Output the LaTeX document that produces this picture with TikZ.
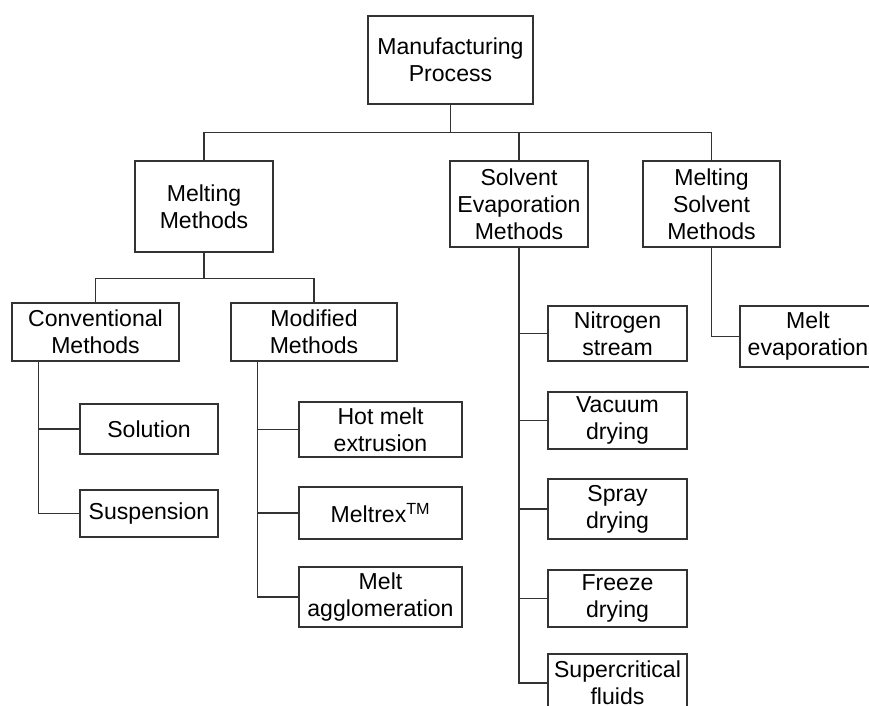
\documentclass[tikz,border=0pt]{standalone}
\usepackage{fontspec}
\setmainfont{Liberation Sans}

\begin{document}
\begin{tikzpicture}[x=0.75pt, y=-0.75pt, line width=0.9pt,
		box/.style={draw=black!80, fill=white, align=center, inner sep=2pt, font=\fontsize{17.3}{20.3}\selectfont},
		wh/.style 2 args={minimum width=#1*0.75pt, minimum height=#2*0.75pt},
		link/.style={draw=black!80}]
		\useasboundingbox (0,0) rectangle (869,706);
		\node[box, wh={165}{88}] (root) at (450.5,60) {Manufacturing\\Process};
		\node[box, wh={138}{91}] (melt) at (204,206.5) {Melting\\Methods};
		\node[box, wh={138}{86}] (solv) at (519,204) {Solvent\\Evaporation\\Methods};
		\node[box, wh={137}{86}] (msolv) at (711.5,204) {Melting\\Solvent\\Methods};
		\node[box, wh={167}{58}] (conv) at (95.5,332) {Conventional\\Methods};
		\node[box, wh={166}{58}] (modif) at (314,332) {Modified\\Methods};
		\node[box, wh={138}{50}] (sol) at (149,429) {Solution};
		\node[box, wh={138}{47}] (susp) at (149,513.5) {Suspension};
		\node[box, wh={163}{55}] (hme) at (380.5,429.5) {Hot melt\\extrusion};
		\node[box, wh={163}{52}] (meltrex) at (380.5,513) {Meltrex\textsuperscript{TM}};
		\node[box, wh={163}{60}] (magg) at (380.5,597) {Melt\\agglomeration};
		\node[box, wh={139}{55}] (nitro) at (617.5,333.5) {Nitrogen\\stream};
		\node[box, wh={139}{57}] (vac) at (617.5,420.5) {Vacuum\\drying};
		\node[box, wh={139}{60}] (spray) at (617.5,509) {Spray\\drying};
		\node[box, wh={139}{57}] (freeze) at (617.5,598.5) {Freeze\\drying};
		\node[box, wh={139}{58}] (scf) at (617.5,683) {Supercritical\\fluids};
		\node[box, wh={136}{61}] (mevap) at (808,336.5) {Melt\\evaporation};
		\foreach \c in {melt,solv,msolv}
			\draw[link] (root.south) -- ++(0,28) -| (\c.north);
		\foreach \c in {conv,modif}
			\draw[link] (melt.south) -- ++(0,26) -| (\c.north);
		\foreach \c in {sol,susp}
			\draw[link] (conv.south west) ++(27,0) |- (\c.west);
		\foreach \c in {hme,meltrex,magg}
			\draw[link] (modif.south west) ++(27,0) |- (\c.west);
		\foreach \c in {nitro,vac,spray,freeze,scf}
			\draw[link] (solv.south) |- (\c.west);
		\draw[link] (msolv.south) |- (mevap.west);
	\end{tikzpicture}
\end{document}
